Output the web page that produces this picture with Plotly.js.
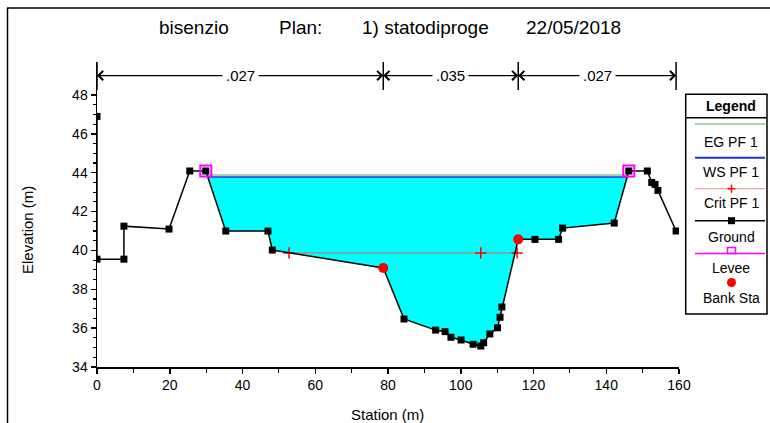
<!DOCTYPE html>
<html>
<head>
<meta charset="utf-8">
<script src="https://cdn.plot.ly/plotly-3.0.1.min.js"></script>
<style>
  html, body { margin: 0; padding: 0; background: #ffffff; }
  #chart { width: 770px; height: 423px; }
</style>
</head>
<body>
<div id="chart"></div>
<script>
// ---------------- data ----------------
const groundSta  = [0, 0, 7.4, 7.4, 19.8, 25.5, 29.9, 35.4, 47.0, 48.2, 78.7, 84.4, 93.1, 95.7, 97.3, 100.1, 103.4, 105.5, 106.3, 108.0, 110.1, 110.8, 111.3, 115.8, 120.4, 126.9, 128.0, 142.2, 146.2, 151.3, 152.5, 153.4, 154.2, 159.2];
const groundElev = [46.9, 39.55, 39.55, 41.25, 41.1, 44.09, 44.09, 41.0, 41.0, 40.02, 39.1, 36.47, 35.9, 35.82, 35.53, 35.39, 35.17, 35.08, 35.25, 35.7, 36.02, 36.56, 37.09, 40.57, 40.57, 40.57, 41.15, 41.41, 44.09, 44.09, 43.5, 43.4, 43.09, 41.0];
const leveeSta   = [29.9, 146.2];
const leveeElev  = [44.09, 44.09];
const bankSta    = [78.7, 115.8];
const bankElev   = [39.1, 40.57];
const critSta    = [52.8, 105.5, 115.5];
const critElev   = [39.87, 39.87, 39.87];
const wsElev     = 43.78;
const egElev     = 43.88;
const roughN     = ['.027', '.035', '.027'];
const xTickVals  = [0, 20, 40, 60, 80, 100, 120, 140, 160];
const yTickVals  = [34, 36, 38, 40, 42, 44, 46, 48];
const titleParts = ['bisenzio', 'Plan:', '1) statodiproge', '22/05/2018'];
const legendItems = ['EG PF 1', 'WS PF 1', 'Crit PF 1', 'Ground', 'Levee', 'Bank Sta'];

// ---------------- helpers ----------------
const FONT = 'Liberation Sans, Arial, sans-serif';
const L = 97, R = 679, T = 62, B = 367;
const px2x = px => (px - L) / (R - L);
const py2y = py => (B - py) / (B - T);

function wetExtent(elev) {
  let imin = 0;
  groundElev.forEach((e, i) => { if (e < groundElev[imin]) imin = i; });
  let j = imin; while (j > 0 && groundElev[j - 1] < elev) j--;
  let k = imin; while (k < groundElev.length - 1 && groundElev[k + 1] < elev) k++;
  const interp = (a, b) => groundSta[a] + (elev - groundElev[a]) / (groundElev[b] - groundElev[a]) * (groundSta[b] - groundSta[a]);
  const xl = interp(j - 1, j), xr = interp(k + 1, k);
  return {j, k, xl, xr};
}

const ws = wetExtent(wsElev);
const eg = wetExtent(egElev);
const polyX = [ws.xl].concat(groundSta.slice(ws.j, ws.k + 1), [ws.xr, ws.xl]);
const polyY = [wsElev].concat(groundElev.slice(ws.j, ws.k + 1), [wsElev, wsElev]);

const traces = [
  {x: polyX, y: polyY, mode: 'lines', fill: 'toself', fillcolor: '#00ffff', line: {width: 0, color: '#00ffff'}, hoverinfo: 'skip'},
  {x: [eg.xl, eg.xr], y: [egElev, egElev], mode: 'lines', line: {color: '#8cc48c', width: 1.5}},
  {x: [ws.xl, ws.xr], y: [wsElev, wsElev], mode: 'lines', line: {color: '#2233dd', width: 1.5}},
  {x: critSta, y: critElev, mode: 'lines+markers', line: {color: '#e86060', width: 1},
   marker: {symbol: 'cross-thin', size: 8, color: '#ff0000', line: {width: 1.5, color: '#ff0000'}}},
  {x: groundSta, y: groundElev, mode: 'lines+markers', line: {color: '#000000', width: 1.5},
   marker: {symbol: 'square', size: 7, color: '#000000'}},
  {x: leveeSta, y: leveeElev, mode: 'markers',
   marker: {symbol: 'square-open', size: 11, color: '#ff00ff', line: {width: 2, color: '#ff00ff'}}},
  {x: bankSta, y: bankElev, mode: 'markers', marker: {symbol: 'circle', size: 10, color: '#ff0000'}}
];

// ---------------- annotations & shapes ----------------
const annotations = [];
const shapes = [];
function ann(text, px, py, size, extra) {
  annotations.push(Object.assign({xref: 'paper', yref: 'paper', x: px2x(px), y: py2y(py),
    xanchor: 'center', yanchor: 'middle', showarrow: false, text: text,
    font: {family: FONT, size: size, color: '#000000'}}, extra || {}));
}

// title pieces
const titleCenters = [194, 300, 425, 573];
titleParts.forEach((t, i) => ann(t, titleCenters[i], 27, 19));

// axis titles
ann('Station (m)', 387, 414, 15);
ann('Elevation (m)', 27, 230, 15, {textangle: -90});

// roughness markers
const bounds = [groundSta[0], bankSta[0], bankSta[1], groundSta[groundSta.length - 1]];
const arrowY = 49.0;
bounds.forEach(b => shapes.push({type: 'line', xref: 'x', yref: 'y', x0: b, x1: b, y0: 48.26, y1: 49.7, line: {color: '#000', width: 1.5}}));
roughN.forEach((n, i) => {
  const mid = (bounds[i] + bounds[i + 1]) / 2;
  [bounds[i], bounds[i + 1]].forEach(end => annotations.push({xref: 'x', yref: 'y', axref: 'x', ayref: 'y',
    x: end, y: arrowY, ax: mid, ay: arrowY, text: '', showarrow: true,
    arrowhead: 4, arrowsize: 1.3, arrowwidth: 1.4, arrowcolor: '#000'}));
});
roughN.forEach((n, i) => {
  const mid = (bounds[i] + bounds[i + 1]) / 2;
  annotations.push({xref: 'x', yref: 'y', x: mid, y: arrowY, text: n, showarrow: false,
    bgcolor: '#ffffff', borderpad: 3, font: {family: FONT, size: 15, color: '#000'}});
});

// outer frame (left & top only visible)
shapes.push({type: 'line', xref: 'paper', yref: 'paper', x0: px2x(7.5), x1: px2x(7.5), y0: py2y(8), y1: py2y(440), line: {color: '#000', width: 1.5}});
shapes.push({type: 'line', xref: 'paper', yref: 'paper', x0: px2x(7), x1: px2x(790), y0: py2y(8), y1: py2y(8), line: {color: '#000', width: 1.5}});

// legend box
const LX0 = 685.7, LX1 = 767, LY0 = 94.3, LY1 = 314;
shapes.push({type: 'rect', xref: 'paper', yref: 'paper', x0: px2x(LX0), x1: px2x(LX1), y0: py2y(LY0), y1: py2y(LY1), line: {color: '#000', width: 1.5}, fillcolor: '#ffffff', layer: 'above'});
shapes.push({type: 'line', xref: 'paper', yref: 'paper', x0: px2x(LX0), x1: px2x(LX1), y0: py2y(117.7), y1: py2y(117.7), line: {color: '#000', width: 1.5}, layer: 'above'});
ann('<b>Legend</b>', 731.5, 106, 14);
const cx = 731.5, lx0 = 695, lx1 = 765;
function lline(py, color, w) {
  shapes.push({type: 'line', xref: 'paper', yref: 'paper', x0: px2x(lx0), x1: px2x(lx1), y0: py2y(py), y1: py2y(py), line: {color: color, width: w}, layer: 'above'});
}
// EG
lline(124, '#8cc48c', 1.5);
// WS
lline(157.7, '#2233dd', 2);
// Crit
lline(188.7, '#f08a8a', 1);
shapes.push({type: 'line', xref: 'paper', yref: 'paper', x0: px2x(cx - 4), x1: px2x(cx + 4), y0: py2y(188.7), y1: py2y(188.7), line: {color: '#ff0000', width: 1.5}, layer: 'above'});
shapes.push({type: 'line', xref: 'paper', yref: 'paper', x0: px2x(cx), x1: px2x(cx), y0: py2y(184.7), y1: py2y(192.7), line: {color: '#ff0000', width: 1.5}, layer: 'above'});
// Ground
lline(220.7, '#000000', 1.5);
shapes.push({type: 'rect', xref: 'paper', yref: 'paper', x0: px2x(cx - 3.5), x1: px2x(cx + 3.5), y0: py2y(217.2), y1: py2y(224.2), line: {color: '#000', width: 0}, fillcolor: '#000', layer: 'above'});
// Levee
lline(253.5, '#ff00ff', 1.5);
shapes.push({type: 'rect', xref: 'paper', yref: 'paper', x0: px2x(cx - 4), x1: px2x(cx + 4), y0: py2y(247.5), y1: py2y(253.5), line: {color: '#ff00ff', width: 1.5}, fillcolor: 'rgba(0,0,0,0)', layer: 'above'});
// Bank
shapes.push({type: 'circle', xref: 'paper', yref: 'paper', x0: px2x(cx - 4.5), x1: px2x(cx + 4.5), y0: py2y(278), y1: py2y(287), line: {color: '#ff0000', width: 0}, fillcolor: '#ff0000', layer: 'above'});
const legTextY = [141.7, 172.3, 203.3, 236.7, 267.7, 298.3];
legendItems.forEach((t, i) => ann(t, cx, legTextY[i], 14));

// minor ticks
const yMinor = [];
for (let v = 34; v <= 48.001; v += 0.5) yMinor.push(v);

const layout = {
  width: 770, height: 423,
  margin: {l: L, r: 770 - R, t: T, b: 423 - B, pad: 0},
  paper_bgcolor: '#ffffff', plot_bgcolor: '#ffffff',
  showlegend: false,
  font: {family: FONT, size: 14, color: '#000'},
  xaxis: {range: [0, 160], tickmode: 'array', tickvals: xTickVals, ticks: 'outside', ticklen: 5, tickwidth: 1.5, tickcolor: '#000',
    showline: true, linecolor: '#000', linewidth: 1.5, showgrid: false, zeroline: false,
    tickfont: {family: FONT, size: 14, color: '#000'},
    minor: {dtick: 10, tick0: 0, ticks: 'outside', ticklen: 4, tickwidth: 1.2, tickcolor: '#000', showgrid: false}},
  yaxis: {range: [34, 49.7], tickmode: 'array', tickvals: yTickVals, ticks: 'outside', ticklen: 5, tickwidth: 1.5, tickcolor: '#000',
    showline: true, linecolor: '#000', linewidth: 1.5, showgrid: false, zeroline: false,
    tickfont: {family: FONT, size: 14, color: '#000'},
    minor: {tickmode: 'array', tickvals: yMinor, ticks: 'outside', ticklen: 3, tickwidth: 1.2, tickcolor: '#000', showgrid: false}},
  annotations: annotations,
  shapes: shapes
};

Plotly.newPlot('chart', traces, layout, {staticPlot: true, displayModeBar: false});
</script>
</body>
</html>
